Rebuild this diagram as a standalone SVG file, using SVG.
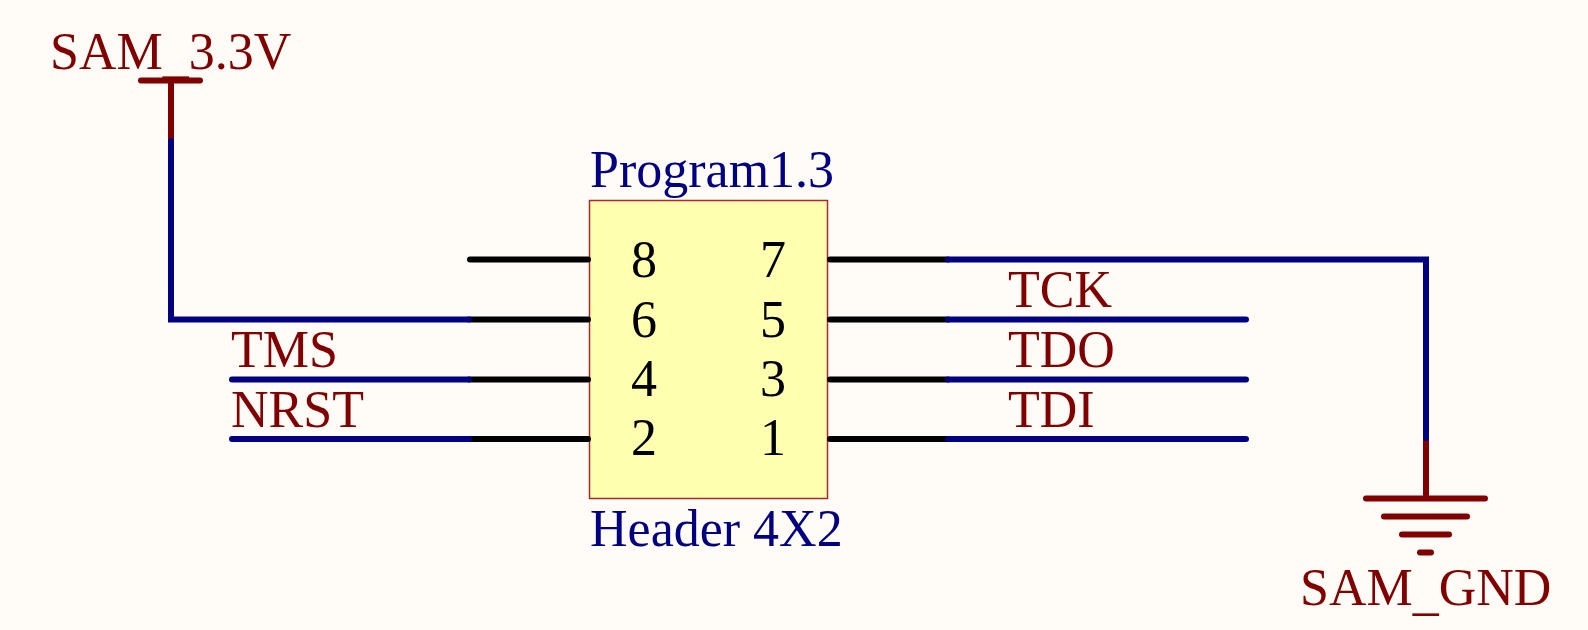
<svg xmlns="http://www.w3.org/2000/svg" width="1588" height="630" viewBox="0 0 1588 630">
<style>
text{font-family:"Liberation Serif","Times New Roman",serif;font-size:52px}
.r{fill:#800000}.b{fill:#000080}.k{fill:#000}
.wr,.wb,.wk{fill:none;stroke-width:6;stroke-linecap:round;stroke-linejoin:miter}
.wr{stroke:#800000}.wb{stroke:#000080}.wk{stroke:#000}
</style>
<rect width="1588" height="630" fill="#FFFCF8"/>
<g id="header">
<rect x="589.5" y="200.5" width="238" height="298" fill="#FFFFB0" stroke="#A52A2A" stroke-width="1.5"/>
<text class="b" x="590" y="187">Program1.3</text>
<text class="b" x="590" y="545.500">Header 4X2</text>
<text class="k" x="631" y="277">8</text><text class="k" x="760" y="277">7</text>
<text class="k" x="631" y="337">6</text><text class="k" x="760" y="337">5</text>
<text class="k" x="631" y="396">4</text><text class="k" x="760" y="396">3</text>
<text class="k" x="631" y="455">2</text><text class="k" x="760" y="455">1</text>
</g>
<g id="sam33">
<path class="wr" d="M171 141V80.500M141 80.500H200"/>
<text class="r" x="50" y="68.500">SAM<tspan dy="3.500">_</tspan><tspan dy="-3.500">3.3V</tspan></text>
</g>
<g id="samgnd">
<path class="wr" d="M1426 438V498.500M1366 498.500H1485M1384 516.500H1467M1402 534.500H1449M1420 552.500H1431"/>
<text class="r" x="1300" y="605">SAM<tspan dy="3.500">_</tspan><tspan dy="-3.500">GND</tspan></text>
</g>
<g id="connectors">
<path class="wk" d="M470 259.500H588M469 319.500H588M469 379.500H588M469 439H588"/>
<path class="wk" d="M830 259.500H948M830 319.500H948M830 379.500H948M830 439H948"/>
<path class="wb" d="M171 141V319.500H469"/>
<path class="wb" d="M232 379.500H469M232 439H469"/>
<path class="wb" d="M948 259.500H1426V438"/>
<path class="wb" d="M948 319.500H1246M948 379.500H1246M948 439H1246"/>
</g>
<g id="labels">
<text class="r" x="231" y="367">TMS</text>
<text class="r" x="231" y="427">NRST</text>
<text class="r" x="1008" y="307">TCK</text>
<text class="r" x="1008" y="367">TDO</text>
<text class="r" x="1008" y="427">TDI</text>
</g>
</svg>
